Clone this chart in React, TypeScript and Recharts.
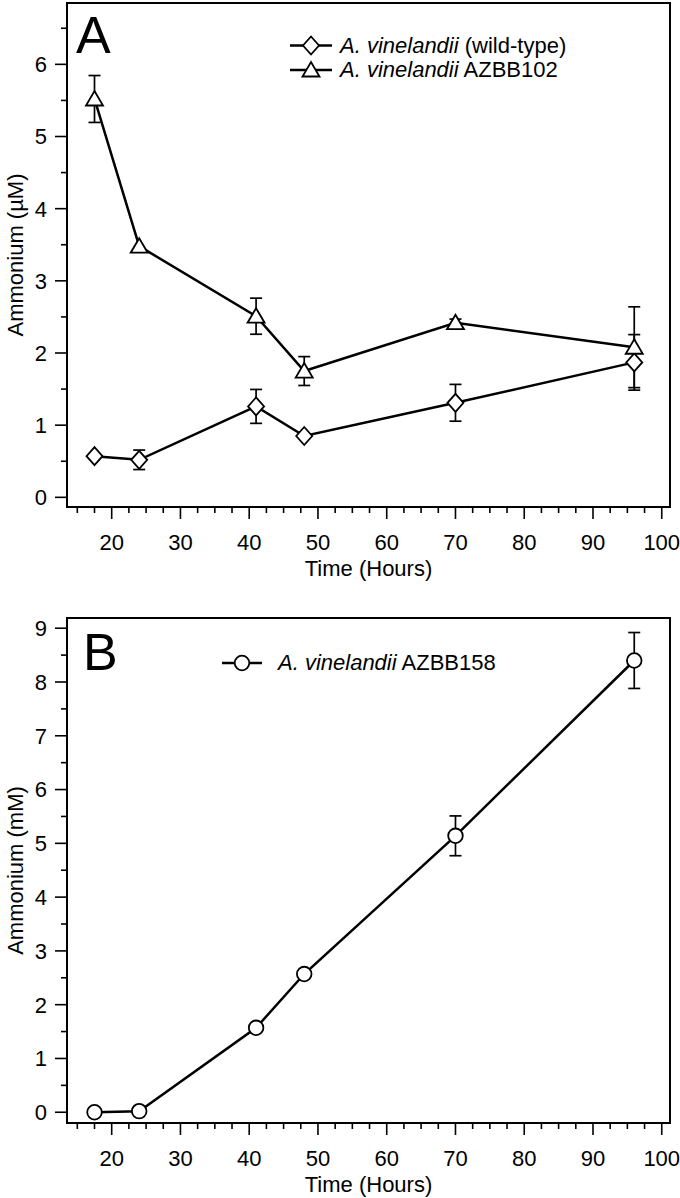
import React from 'react';
import { LineChart, Line, XAxis, YAxis, ErrorBar, ReferenceArea } from 'recharts';

const FONT = '"Liberation Sans", Arial, Helvetica, sans-serif';

// sampling times (hours)
const hours = [17.5, 24, 41, 48, 70, 96];

// panel A, ammonium in µM
const wildType = [0.57, 0.52, 1.26, 0.85, 1.31, 1.87];
const wildTypeErr = [0, 0.135, 0.235, 0, 0.255, 0.385];
const azbb102 = [5.52, 3.48, 2.51, 1.75, 2.42, 2.08];
const azbb102Err = [0.325, 0, 0.25, 0.2, 0.05, 0.56];

// panel B, ammonium in mM
const azbb158 = [0, 0.02, 1.57, 2.57, 5.14, 8.4];
const azbb158Err = [0, 0, 0, 0, 0.37, 0.52];

const xTicks = [15, 17.5, 20, 22.5, 25, 27.5, 30, 32.5, 35, 37.5, 40, 42.5, 45, 47.5, 50, 52.5, 55, 57.5, 60, 62.5, 65, 67.5, 70, 72.5, 75, 77.5, 80, 82.5, 85, 87.5, 90, 92.5, 95, 97.5, 100];
const yTicksA = [0, 0.5, 1, 1.5, 2, 2.5, 3, 3.5, 4, 4.5, 5, 5.5, 6, 6.5];
const yTicksB = [0, 0.5, 1, 1.5, 2, 2.5, 3, 3.5, 4, 4.5, 5, 5.5, 6, 6.5, 7, 7.5, 8, 8.5, 9];

const xDomain: [number, number] = [13.5, 101.2];
const yDomainA: [number, number] = [-0.134, 6.85];
const yDomainB: [number, number] = [-0.2, 9.19];

const dataA = hours.map((h, i) => ({
  hours: h,
  wt: wildType[i],
  wtErr: wildTypeErr[i],
  b102: azbb102[i],
  b102Err: azbb102Err[i],
}));

const dataB = hours.map((h, i) => ({
  hours: h,
  b158: azbb158[i],
  b158Err: azbb158Err[i],
}));

const XTick = (props: any) => {
  const { x, y, payload } = props;
  const major = payload.value % 10 === 0;
  return (
    <g>
      <line x1={x} x2={x} y1={y} y2={y + (major ? 12 : 6)} stroke="#000" strokeWidth={1.6} />
      {major && (
        <text x={x} y={y + 43} textAnchor="middle" fontSize={22} fill="#000" fontFamily={FONT}>
          {payload.value}
        </text>
      )}
    </g>
  );
};

const YTick = (props: any) => {
  const { x, y, payload } = props;
  const major = payload.value % 1 === 0;
  return (
    <g>
      <line x1={x - (major ? 12 : 6)} x2={x} y1={y} y2={y} stroke="#000" strokeWidth={1.6} />
      {major && (
        <text x={x - 20} y={y} dy="0.36em" textAnchor="end" fontSize={22} fill="#000" fontFamily={FONT}>
          {payload.value}
        </text>
      )}
    </g>
  );
};

const xTitle = (props: any) => {
  const vb = props.viewBox || { x: 67, y: 0, width: 603, height: 0 };
  return (
    <text x={vb.x + vb.width / 2} y={vb.y + 69} textAnchor="middle" fontSize={22} fill="#000" fontFamily={FONT}>
      Time (Hours)
    </text>
  );
};

const yTitle = (text: string) => (props: any) => {
  const vb = props.viewBox || { x: 0, y: 0, width: 67, height: 500 };
  const cx = 15;
  const cy = vb.y + vb.height / 2;
  return (
    <text x={cx} y={cy} dy="0.36em" transform={`rotate(-90 ${cx} ${cy})`} textAnchor="middle" fontSize={22} fill="#000" fontFamily={FONT}>
      {text}
    </text>
  );
};

const diamond = (p: any) => {
  const { cx, cy, index } = p;
  if (cx == null || cy == null) return <g key={`dm-${index}`} />;
  return (
    <polygon
      key={`dm-${index}`}
      points={`${cx},${cy - 9} ${cx + 8},${cy} ${cx},${cy + 9} ${cx - 8},${cy}`}
      fill="#fff"
      stroke="#000"
      strokeWidth={1.8}
    />
  );
};

const triangle = (p: any) => {
  const { cx, cy, index } = p;
  if (cx == null || cy == null) return <g key={`tr-${index}`} />;
  return (
    <polygon
      key={`tr-${index}`}
      points={`${cx},${cy - 8} ${cx + 8.5},${cy + 6.5} ${cx - 8.5},${cy + 6.5}`}
      fill="#fff"
      stroke="#000"
      strokeWidth={1.8}
    />
  );
};

const circle = (p: any) => {
  const { cx, cy, index } = p;
  if (cx == null || cy == null) return <g key={`ci-${index}`} />;
  return <circle key={`ci-${index}`} cx={cx} cy={cy} r={7.3} fill="#fff" stroke="#000" strokeWidth={1.8} />;
};

export default function App() {
  return (
    <div style={{ position: 'absolute', left: 0, top: 0, width: 680, height: 1198, background: '#fff' }}>
      <div style={{ position: 'absolute', left: 0, top: 0 }}>
        <LineChart width={680} height={595} data={dataA} margin={{ top: 3, right: 10, bottom: 0, left: 0 }}>
          <XAxis
            type="number"
            dataKey="hours"
            domain={xDomain}
            allowDataOverflow
            ticks={xTicks}
            interval={0}
            tick={XTick}
            tickSize={0}
            tickMargin={0}
            tickLine={false}
            axisLine={false}
            height={88}
            label={{ content: xTitle }}
          />
          <YAxis
            type="number"
            domain={yDomainA}
            allowDataOverflow
            ticks={yTicksA}
            interval={0}
            tick={YTick}
            tickSize={0}
            tickMargin={0}
            tickLine={false}
            axisLine={false}
            width={67}
            label={{ content: yTitle('Ammonium (µM)') }}
          />
          <ReferenceArea x1={xDomain[0]} x2={xDomain[1]} y1={yDomainA[0]} y2={yDomainA[1]} fill="none" fillOpacity={0} stroke="#000" strokeWidth={2} ifOverflow="visible" />
          <Line type="linear" dataKey="wt" stroke="#000" strokeWidth={2.5} dot={diamond} activeDot={false} isAnimationActive={false}>
            <ErrorBar dataKey="wtErr" width={6} stroke="#000" strokeWidth={1.7} direction="y" />
          </Line>
          <Line type="linear" dataKey="b102" stroke="#000" strokeWidth={2.5} dot={triangle} activeDot={false} isAnimationActive={false}>
            <ErrorBar dataKey="b102Err" width={6} stroke="#000" strokeWidth={1.7} direction="y" />
          </Line>
        </LineChart>
      </div>
      <div style={{ position: 'absolute', left: 0, top: 595 }}>
        <LineChart width={680} height={603} data={dataB} margin={{ top: 23, right: 10, bottom: 0, left: 0 }}>
          <XAxis
            type="number"
            dataKey="hours"
            domain={xDomain}
            allowDataOverflow
            ticks={xTicks}
            interval={0}
            tick={XTick}
            tickSize={0}
            tickMargin={0}
            tickLine={false}
            axisLine={false}
            height={75}
            label={{ content: xTitle }}
          />
          <YAxis
            type="number"
            domain={yDomainB}
            allowDataOverflow
            ticks={yTicksB}
            interval={0}
            tick={YTick}
            tickSize={0}
            tickMargin={0}
            tickLine={false}
            axisLine={false}
            width={67}
            label={{ content: yTitle('Ammonium (mM)') }}
          />
          <ReferenceArea x1={xDomain[0]} x2={xDomain[1]} y1={yDomainB[0]} y2={yDomainB[1]} fill="none" fillOpacity={0} stroke="#000" strokeWidth={2} ifOverflow="visible" />
          <Line type="linear" dataKey="b158" stroke="#000" strokeWidth={2.5} dot={circle} activeDot={false} isAnimationActive={false}>
            <ErrorBar dataKey="b158Err" width={6} stroke="#000" strokeWidth={1.7} direction="y" />
          </Line>
        </LineChart>
      </div>
      <svg width={680} height={1198} style={{ position: 'absolute', left: 0, top: 0, pointerEvents: 'none' }} fontFamily={FONT}>
        <text x={76} y={53} fontSize={52} fill="#000">A</text>
        <text x={83} y={670} fontSize={52} fill="#000">B</text>

        <line x1={290} x2={332} y1={45.5} y2={45.5} stroke="#000" strokeWidth={2.5} />
        <polygon points="311,36.5 319,45.5 311,54.5 303,45.5" fill="#fff" stroke="#000" strokeWidth={1.8} />
        <text x={340} y={53} fontSize={22} fill="#000">
          <tspan fontStyle="italic">A. vinelandii</tspan> (wild-type)
        </text>

        <line x1={290} x2={332} y1={70} y2={70} stroke="#000" strokeWidth={2.5} />
        <polygon points="311,62 319.5,76.5 302.5,76.5" fill="#fff" stroke="#000" strokeWidth={1.8} />
        <text x={340} y={77} fontSize={22} fill="#000">
          <tspan fontStyle="italic">A. vinelandii</tspan> AZBB102
        </text>

        <line x1={222} x2={262} y1={663} y2={663} stroke="#000" strokeWidth={2.5} />
        <circle cx={242} cy={663} r={7.3} fill="#fff" stroke="#000" strokeWidth={1.8} />
        <text x={278} y={670} fontSize={22} fill="#000">
          <tspan fontStyle="italic">A. vinelandii</tspan> AZBB158
        </text>
      </svg>
    </div>
  );
}
